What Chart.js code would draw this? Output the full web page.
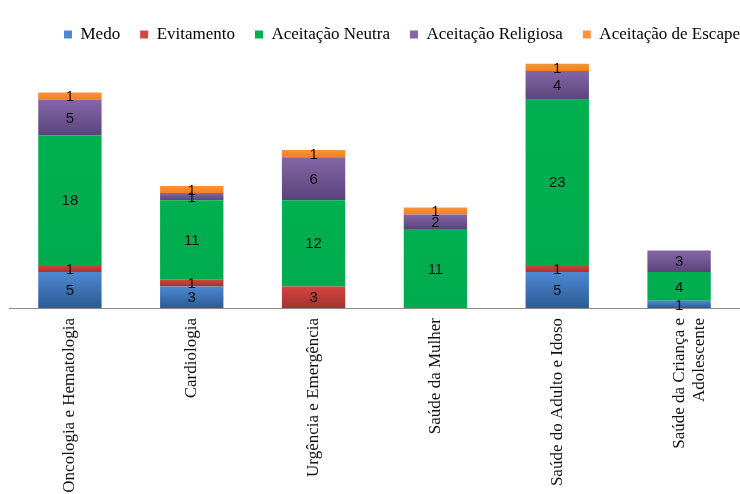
<!DOCTYPE html>
<html lang="pt">
<head>
    <meta charset="UTF-8">
    <title>Atitudes perante a morte por setor</title>
    <script src="https://cdn.jsdelivr.net/npm/chart.js"></script>
    <style>
        body { margin: 0; background: #fff; }
        #wrap { width: 740px; height: 494px; }
    </style>
</head>
<body>
    <div id="wrap"><canvas id="myChart"></canvas></div>

    <script>
        const categories = [
            'Oncologia e Hematologia',
            'Cardiologia',
            'Urgência e Emergência',
            'Saúde da Mulher',
            'Saúde do Adulto e Idoso',
            ['Saúde da Criança e', 'Adolescente']
        ];
        const seriesNames = ['Medo', 'Evitamento', 'Aceitação Neutra', 'Aceitação Religiosa', 'Aceitação de Escape'];
        const medo       = [5, 3, 0, 0, 5, 1];
        const evitamento = [1, 1, 3, 0, 1, 0];
        const neutra     = [18, 11, 12, 11, 23, 4];
        const religiosa  = [5, 1, 6, 2, 4, 3];
        const escape     = [1, 1, 1, 1, 1, 0];

        // top / bottom colours of each series (Excel style gradient)
        const colors = [
            ['#4d88d2', '#2c5b95'],
            ['#d2463f', '#a3322f'],
            ['#00b050', '#00ab4e'],
            ['#8466a8', '#5a447b'],
            ['#f8933d', '#f2801e']
        ];

        const values = [medo, evitamento, neutra, religiosa, escape];

        // gradient per segment, worked out from the stacked values
        function segFill(c) {
            const i = c.datasetIndex, j = c.dataIndex;
            const chart = c.chart;
            const y = chart.scales && chart.scales.y;
            if (c.type !== 'data' || !y || !chart.chartArea) return colors[i][0];
            let start = 0;
            for (let k = 0; k < i; k++) start += values[k][j];
            const end = start + values[i][j];
            const top = y.getPixelForValue(end);
            const bot = y.getPixelForValue(start);
            if (bot - top < 0.5) return colors[i][0];
            const g = chart.ctx.createLinearGradient(0, top, 0, bot);
            g.addColorStop(0, colors[i][0]);
            g.addColorStop(1, colors[i][1]);
            return g;
        }

        // value labels in the middle of each segment
        const labelPlugin = {
            id: 'segLabels',
            afterDatasetsDraw(chart) {
                const ctx = chart.ctx;
                ctx.save();
                ctx.font = '15px "Liberation Sans", Arial, sans-serif';
                ctx.fillStyle = '#111';
                ctx.textAlign = 'center';
                ctx.textBaseline = 'middle';
                chart.data.datasets.forEach((ds, i) => {
                    const meta = chart.getDatasetMeta(i);
                    meta.data.forEach((el, j) => {
                        const v = ds.data[j];
                        if (!v) return;
                        ctx.fillText(String(v), el.x, (el.y + el.base) / 2 + 1);
                    });
                });
                ctx.restore();
            }
        };

        // push the legend a bit to the right, like the original
        const legendShift = {
            id: 'legendShift',
            afterLayout(chart) {
                const lg = chart.legend;
                if (!lg) return;
                lg.left += 20;
                lg.right += 20;
            }
        };

        const ctx = document.getElementById('myChart').getContext('2d');

        new Chart(ctx, {
            type: 'bar',
            data: {
                labels: categories,
                datasets: seriesNames.map((name, i) => ({
                    label: name,
                    data: values[i],
                    backgroundColor: segFill,
                    borderWidth: 0,
                    categoryPercentage: 1,
                    barPercentage: 0.52
                }))
            },
            options: {
                responsive: true,
                maintainAspectRatio: false,
                animation: false,
                layout: {
                    padding: { left: 9, right: 0, top: 6, bottom: 0 }
                },
                plugins: {
                    legend: {
                        position: 'top',
                        align: 'end',
                        labels: {
                            boxWidth: 8,
                            boxHeight: 8,
                            padding: 20,
                            color: '#111',
                            font: { family: '"Liberation Serif", "Times New Roman", serif', size: 17 },
                            generateLabels(chart) {
                                return seriesNames.map((name, i) => ({
                                    text: name,
                                    fillStyle: colors[i][0],
                                    strokeStyle: colors[i][0],
                                    lineWidth: 0,
                                    hidden: false,
                                    datasetIndex: i
                                }));
                            }
                        }
                    },
                    tooltip: { enabled: false }
                },
                scales: {
                    x: {
                        stacked: true,
                        grid: { display: false },
                        border: { display: true, color: '#8c8c8c', width: 1 },
                        ticks: {
                            minRotation: 90,
                            maxRotation: 90,
                            autoSkip: false,
                            color: '#111',
                            padding: 2,
                            font: { family: '"Liberation Serif", "Times New Roman", serif', size: 17 }
                        },
                        afterFit(scale) { scale.height = 186; }
                    },
                    y: {
                        stacked: true,
                        display: false,
                        min: 0,
                        max: 35.5
                    }
                }
            },
            plugins: [labelPlugin, legendShift]
        });
    </script>
</body>
</html>
